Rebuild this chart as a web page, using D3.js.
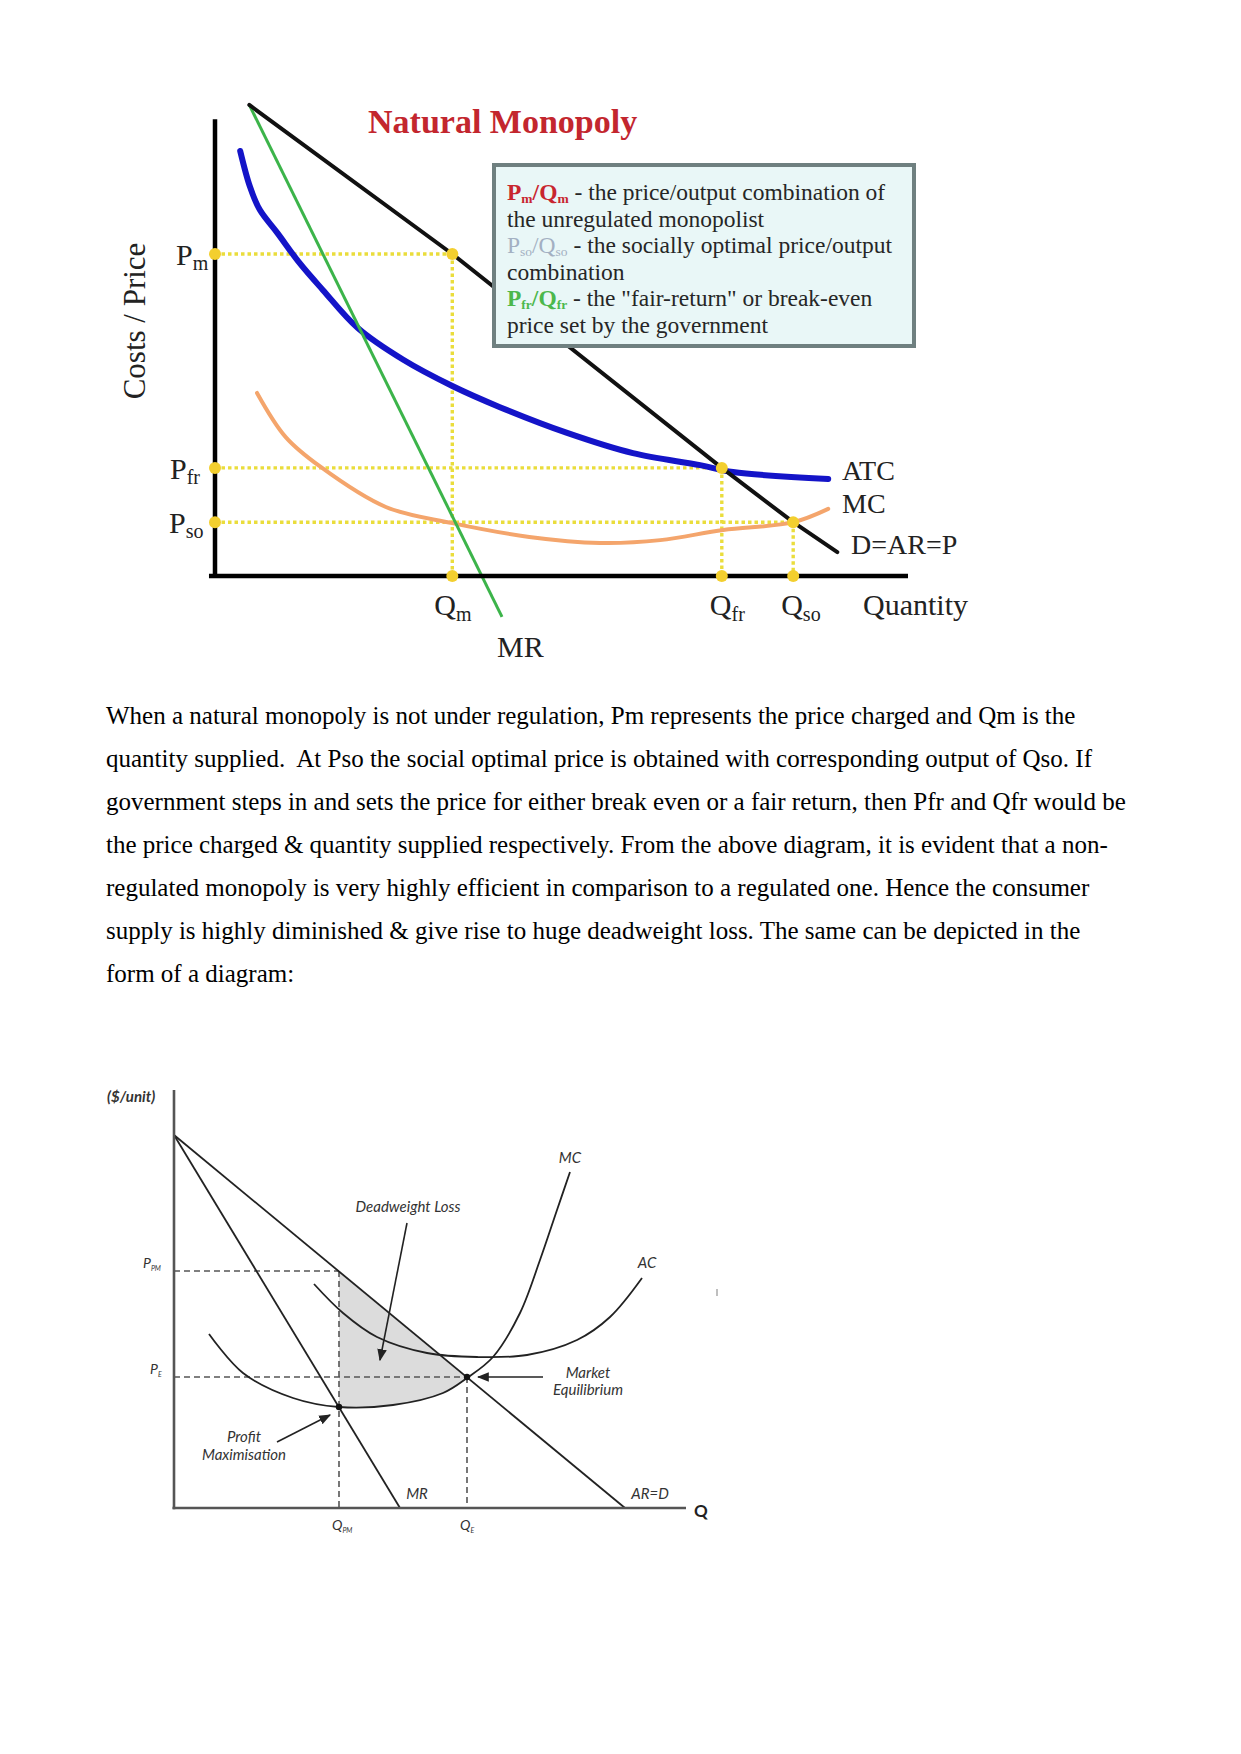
<!DOCTYPE html>
<html>
<head>
<meta charset="utf-8">
<script src="https://cdn.jsdelivr.net/npm/d3@7"></script>
<style>
  html, body { margin: 0; padding: 0; background: #fff; }
  svg { display: block; }
</style>
</head>
<body>
<svg id="page" width="1241" height="1754"></svg>
<script>
// ---------------- DATA ----------------
// Chart 1: Natural Monopoly (units: quantity 0..100, price 0..100)
const c1Title = "Natural Monopoly";
const c1Demand = [[4.9, 102.4], [33.9, 70], [72.4, 23.5], [82.6, 11.7], [88.9, 5.2]];
const c1MR = [[4.9, 102.4], [41, -8.9]];
const c1ATC = [[3.6, 92.4], [5, 84.6], [6.4, 79.6], [8.9, 74.6], [12.1, 68], [15.4, 62.2], [20.4, 53.9],
  [26.9, 47], [33.9, 41.3], [40.7, 36.7], [50.3, 31.1], [59.7, 26.7], [69.3, 24.1], [74, 22.6], [87.6, 21.1]];
const c1MC = [[6, 39.8], [10.1, 30.2], [15.1, 23.7], [24.4, 15], [33.9, 11.5], [44.9, 8.5], [55, 7.2],
  [63.6, 7.8], [72.6, 10], [82.6, 11.7], [87.6, 14.6]];
const c1PriceNames = ["m", "fr", "so"];
const c1Prices = [70, 23.5, 11.7];
const c1Quantities = [33.9, 72.4, 82.6];
const c1CurveLabels = ["ATC", "MC", "D=AR=P"];
const c1LegendLines = [
  [{t: "P", c: "r"}, {t: "m", c: "r", sub: 1}, {t: "/Q", c: "r"}, {t: "m", c: "r", sub: 1}, {t: " - the price/output combination of"}],
  [{t: "the unregulated monopolist"}],
  [{t: "P", c: "g"}, {t: "so", c: "g", sub: 1}, {t: "/Q", c: "g"}, {t: "so", c: "g", sub: 1}, {t: " - the socially optimal price/output"}],
  [{t: "combination"}],
  [{t: "P", c: "n"}, {t: "fr", c: "n", sub: 1}, {t: "/Q", c: "n"}, {t: "fr", c: "n", sub: 1}, {t: " - the \"fair-return\" or break-even"}],
  [{t: "price set by the government"}]
];

// Paragraph
const paragraphLines = [
  "When a natural monopoly is not under regulation, Pm represents the price charged and Qm is the",
  "quantity supplied.  At Pso the social optimal price is obtained with corresponding output of Qso. If",
  "government steps in and sets the price for either break even or a fair return, then Pfr and Qfr would be",
  "the price charged & quantity supplied respectively. From the above diagram, it is evident that a non-",
  "regulated monopoly is very highly efficient in comparison to a regulated one. Hence the consumer",
  "supply is highly diminished & give rise to huge deadweight loss. The same can be depicted in the",
  "form of a diagram:"
];

// Chart 2: deadweight loss diagram (units: quantity 0..100, price 0..100)
const c2Demand = [[0, 93.25], [90.2, 0]];
const c2MR = [[0, 93.25], [45.2, 0]];
const c2MC = [[7, 43.5], [13.8, 33.75], [23.8, 27.5], [33, 25.25], [43.8, 25.75], [53.8, 28.75], [58.6, 32.5],
  [63.8, 37.75], [69.2, 48.75], [73.2, 62], [76.6, 74.5], [79.2, 84]];
const c2AC = [[28, 56], [33.8, 48.75], [40.6, 42.75], [50.6, 38.75], [60.6, 37.75], [70.6, 38.25], [80.6, 42],
  [87.2, 47.75], [93.6, 57.5]];
const c2QNames = ["PM", "E"];
const c2Quantities = [33, 58.6];
const c2Prices = [59.25, 32.75];
const c2ProfitMax = [33, 25.25];

// ---------------- DRAWING ----------------
const svg = d3.select("#page");
svg.append("rect").attr("width", 1241).attr("height", 1754).attr("fill", "#fff");

const SERIF = "'Liberation Serif', 'Times New Roman', serif";
const SANS = "Lato, 'Open Sans', sans-serif";

function rich(sel, parts, baseSize, subSize, subShift, colors) {
  let shifted = false;
  parts.forEach(p => {
    const ts = sel.append("tspan").text(p.t);
    if (p.sub) {
      ts.attr("font-size", subSize);
      if (!shifted) { ts.attr("dy", subShift); shifted = true; }
    } else {
      ts.attr("font-size", baseSize);
      if (shifted) { ts.attr("dy", -subShift); shifted = false; }
    }
    if (p.c && colors) {
      ts.attr("fill", colors[p.c].fill);
      if (colors[p.c].weight) ts.attr("font-weight", colors[p.c].weight);
    }
  });
}

// ===== Chart 1 =====
const x1 = d3.scaleLinear().domain([0, 100]).range([215, 915]);
const y1 = d3.scaleLinear().domain([0, 100]).range([576, 116]);
const g1 = svg.append("g");
const line1 = d3.line().x(d => x1(d[0])).y(d => y1(d[1]));
const curve1 = d3.line().x(d => x1(d[0])).y(d => y1(d[1])).curve(d3.curveCatmullRom.alpha(0.5));

// dotted guide lines
const dotted = g1.append("g").attr("fill", "none").attr("stroke", "#eadd3c")
  .attr("stroke-width", 3.4).attr("stroke-dasharray", "3.5 3");
c1Prices.forEach((p, i) => {
  const q = c1Quantities[i];
  dotted.append("path").attr("d", line1([[0, p], [q, p]]));
  dotted.append("path").attr("d", line1([[q, p], [q, 0]]));
});

// curves
g1.append("path").attr("d", curve1(c1MC)).attr("fill", "none").attr("stroke", "#f4a56c")
  .attr("stroke-width", 4).attr("stroke-linecap", "round");
g1.append("path").attr("d", curve1(c1ATC)).attr("fill", "none").attr("stroke", "#1414c8")
  .attr("stroke-width", 6).attr("stroke-linecap", "round");
g1.append("path").attr("d", line1(c1MR)).attr("fill", "none").attr("stroke", "#3cb44a")
  .attr("stroke-width", 3);
g1.append("path").attr("d", line1(c1Demand)).attr("fill", "none").attr("stroke", "#111")
  .attr("stroke-width", 4).attr("stroke-linecap", "round");

// legend box drawn over the demand line
const lg2 = g1.append("g");
lg2.append("rect").attr("x", 494).attr("y", 165).attr("width", 420).attr("height", 181)
  .attr("fill", "#e9f7f7").attr("stroke", "#6f8080").attr("stroke-width", 4);
const legendColors = {
  r: {fill: "#c8262f", weight: "bold"},
  g: {fill: "#a3b0c2", weight: "normal"},
  n: {fill: "#4cb84c", weight: "bold"}
};
c1LegendLines.forEach((parts, i) => {
  const t = lg2.append("text").attr("x", 507).attr("y", 200 + i * 26.5)
    .attr("font-family", SERIF).attr("font-size", 23.5).attr("fill", "#262626");
  rich(t, parts, 23.5, 13.5, 3, legendColors);
});

// axes
g1.append("line").attr("x1", x1(0)).attr("x2", x1(0)).attr("y1", y1(99.3)).attr("y2", y1(-0.4))
  .attr("stroke", "#000").attr("stroke-width", 4.5);
g1.append("line").attr("x1", x1(-0.86)).attr("x2", x1(99)).attr("y1", y1(0)).attr("y2", y1(0))
  .attr("stroke", "#000").attr("stroke-width", 4.5);

// points
const pts = [];
c1Prices.forEach((p, i) => {
  const q = c1Quantities[i];
  pts.push([0, p], [q, p], [q, 0]);
});
g1.append("g").selectAll("circle").data(pts).join("circle")
  .attr("cx", d => x1(d[0])).attr("cy", d => y1(d[1])).attr("r", 6).attr("fill", "#f3cf2f");

// title
g1.append("text").attr("x", 368).attr("y", 133).attr("font-family", SERIF).attr("font-weight", "bold")
  .attr("font-size", 34).attr("fill", "#c3262e").text(c1Title);

// y-axis title
g1.append("text").attr("transform", `translate(145,321) rotate(-90)`).attr("text-anchor", "middle")
  .attr("font-family", SERIF).attr("font-size", 31).attr("fill", "#222").text("Costs / Price");

// price labels
const pLabelX = [176, 170, 169];
c1Prices.forEach((p, i) => {
  const t = g1.append("text").attr("x", pLabelX[i]).attr("y", y1(p) + 11)
    .attr("font-family", SERIF).attr("fill", "#222");
  rich(t, [{t: "P"}, {t: c1PriceNames[i], sub: 1}], 30, 20, 5);
});
// quantity labels
const qLabelOffset = [-18, -12, -12];
c1Quantities.forEach((q, i) => {
  const t = g1.append("text").attr("x", x1(q) + qLabelOffset[i]).attr("y", 615)
    .attr("font-family", SERIF).attr("fill", "#222");
  rich(t, [{t: "Q"}, {t: c1PriceNames[i], sub: 1}], 30, 20, 6);
});
g1.append("text").attr("x", 863).attr("y", 615).attr("font-family", SERIF).attr("font-size", 30)
  .attr("fill", "#222").text("Quantity");
g1.append("text").attr("x", x1(c1MR[1][0]) - 5).attr("y", 657).attr("font-family", SERIF)
  .attr("font-size", 30).attr("fill", "#222").text("MR");
const curveLabelPos = [[842, 480], [842, 513], [851, 554]];
c1CurveLabels.forEach((s, i) => {
  g1.append("text").attr("x", curveLabelPos[i][0]).attr("y", curveLabelPos[i][1])
    .attr("font-family", SERIF).attr("font-size", 28).attr("fill", "#222").text(s);
});

// ===== Paragraph =====
const para = svg.append("g").attr("font-family", SERIF).attr("font-size", 25).attr("fill", "#000");
paragraphLines.forEach((s, i) => {
  para.append("text").attr("x", 106).attr("y", 724 + i * 43).attr("xml:space", "preserve")
    .style("white-space", "pre").text(s);
});

// ===== Chart 2 =====
const x2 = d3.scaleLinear().domain([0, 100]).range([174, 674]);
const y2 = d3.scaleLinear().domain([0, 100]).range([1508, 1108]);
const g2 = svg.append("g");
const line2 = d3.line().x(d => x2(d[0])).y(d => y2(d[1]));
const curve2 = d3.line().x(d => x2(d[0])).y(d => y2(d[1])).curve(d3.curveCatmullRom.alpha(0.5));

const defs = svg.append("defs");
defs.append("marker").attr("id", "arr").attr("viewBox", "0 0 10 10").attr("refX", 9).attr("refY", 5)
  .attr("markerWidth", 12).attr("markerHeight", 12).attr("orient", "auto-start-reverse")
  .attr("markerUnits", "userSpaceOnUse")
  .append("path").attr("d", "M0,1 L10,5 L0,9 Z").attr("fill", "#222");

// DWL shaded area: D from Q_PM down to E, then back along MC to Q_PM
const dAt = q => c2Demand[0][1] + (c2Demand[1][1] - c2Demand[0][1]) * (q - c2Demand[0][0]) / (c2Demand[1][0] - c2Demand[0][0]);
const mcSeg = c2MC.filter(d => d[0] >= c2Quantities[0] && d[0] <= c2Quantities[1]).reverse();
const mcPath = curve2(mcSeg).replace(/^M/, "L");
const areaD = line2([[c2Quantities[0], dAt(c2Quantities[0])], [c2Quantities[1], dAt(c2Quantities[1])]]) + mcPath + "Z";
g2.append("path").attr("d", areaD).attr("fill", "#dcdcdc");

// dashed guides
const dash = g2.append("g").attr("fill", "none").attr("stroke", "#555").attr("stroke-width", 1.6)
  .attr("stroke-dasharray", "6 4");
c2Prices.forEach((p, i) => {
  const q = c2Quantities[i];
  dash.append("path").attr("d", line2([[0, p], [q, p]]));
  dash.append("path").attr("d", line2([[q, p], [q, 0]]));
});

// curves
const cs = g2.append("g").attr("fill", "none").attr("stroke", "#222").attr("stroke-width", 1.8);
cs.append("path").attr("d", line2(c2Demand));
cs.append("path").attr("d", line2(c2MR));
cs.append("path").attr("d", curve2(c2MC));
cs.append("path").attr("d", curve2(c2AC));

// axes
g2.append("line").attr("x1", x2(0)).attr("x2", x2(0)).attr("y1", y2(104.5)).attr("y2", y2(-0.3))
  .attr("stroke", "#555").attr("stroke-width", 2.6);
g2.append("line").attr("x1", x2(-0.3)).attr("x2", x2(102.4)).attr("y1", y2(0)).attr("y2", y2(0))
  .attr("stroke", "#555").attr("stroke-width", 2.6);

// points
g2.append("circle").attr("cx", x2(c2ProfitMax[0])).attr("cy", y2(c2ProfitMax[1])).attr("r", 3.2).attr("fill", "#111");
g2.append("circle").attr("cx", x2(c2Quantities[1])).attr("cy", y2(c2Prices[1])).attr("r", 3.2).attr("fill", "#111");

// arrows
const arrows = [[[407, 1223], [380, 1360]], [[543, 1377], [478, 1377]], [[277, 1442], [330, 1415]]];
arrows.forEach(a => {
  g2.append("line").attr("x1", a[0][0]).attr("y1", a[0][1]).attr("x2", a[1][0]).attr("y2", a[1][1])
    .attr("stroke", "#222").attr("stroke-width", 1.6).attr("marker-end", "url(#arr)");
});

// labels
const lab = g2.append("g").attr("font-family", SANS).attr("font-style", "italic").attr("font-size", 15)
  .attr("fill", "#333");
const c2Texts = [
  ["Deadweight Loss", 408, 1212], ["MC", 570, 1163], ["AC", 647, 1268],
  ["Market", 588, 1378], ["Equilibrium", 588, 1395], ["Profit", 244, 1442], ["Maximisation", 244, 1460],
  ["MR", 417, 1499], ["AR=D", 650, 1499]
];
c2Texts.forEach(d => {
  lab.append("text").attr("x", d[1]).attr("y", d[2]).attr("text-anchor", "middle").text(d[0]);
});
c2Quantities.forEach((q, i) => {
  const t = lab.append("text").attr("x", x2(q) - 7).attr("y", 1530);
  rich(t, [{t: "Q"}, {t: c2QNames[i], sub: 1}], 14, 7, 3);
});
c2Prices.forEach((p, i) => {
  const t = lab.append("text").attr("x", i === 0 ? 143 : 150).attr("y", y2(p) - 3);
  rich(t, [{t: "P"}, {t: c2QNames[i], sub: 1}], 14, 7, 3);
});
g2.append("text").attr("x", 694).attr("y", 1517).attr("font-family", SANS).attr("font-weight", "bold")
  .attr("font-size", 17).attr("fill", "#222").text("Q");
g2.append("text").attr("x", 107).attr("y", 1102).attr("font-family", SANS).attr("font-weight", "bold")
  .attr("font-style", "italic").attr("font-size", 15).attr("fill", "#333").text("($/unit)");
// small stray mark at right of the diagram
g2.append("line").attr("x1", 717).attr("x2", 717).attr("y1", 1289).attr("y2", 1296)
  .attr("stroke", "#aaa").attr("stroke-width", 1.5);
</script>
</body>
</html>
